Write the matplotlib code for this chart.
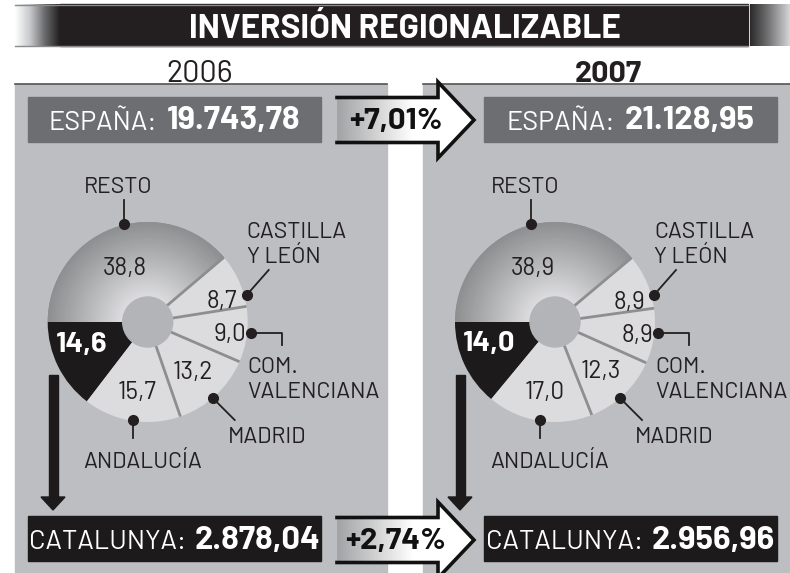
import numpy as np
import matplotlib
matplotlib.use('Agg')
import matplotlib.pyplot as plt
from matplotlib.patches import Rectangle, Polygon, Wedge, Circle
from matplotlib import font_manager as fm
from matplotlib.colors import LinearSegmentedColormap

# ---------------- data ----------------
title = 'INVERSIÓN REGIONALIZABLE'
years = ['2006', '2007']
regions = ['CATALUNYA', 'ANDALUCÍA', 'MADRID', 'COM.\nVALENCIANA', 'CASTILLA\nY LEÓN', 'RESTO']
share_2006 = [14.6, 15.7, 13.2, 9.0, 8.7, 38.8]
share_2007 = [14.0, 17.0, 12.3, 8.9, 8.9, 38.9]
spain_total = [19743.78, 21128.95]
catalunya_total = [2878.04, 2956.96]
growth_spain = 7.01
growth_catalunya = 2.74

# ---------------- fonts ----------------
names = {f.name for f in fm.fontManager.ttflist}
FONT = 'Barlow' if 'Barlow' in names else ('Barlow Semi Condensed' if 'Barlow Semi Condensed' in names else 'DejaVu Sans')
plt.rcParams['font.family'] = [FONT, 'DejaVu Sans']


def es_num(v, d=2):
    s = f"{v:,.{d}f}"
    return s.replace(',', 'X').replace('.', ',').replace('X', '.')


W, H = 790, 573
fig = plt.figure(figsize=(W / 100, H / 100), dpi=100)
fig.patch.set_facecolor('white')
ax = fig.add_axes([0, 0, 1, 1])
ax.axis('off')


def Y(y):
    return H - y


PANEL = '#bdbec1'
LIGHT = '#dcdcde'
DARK = '#1c1a1b'
INK = '#231f20'

# ---------------- title bar ----------------
ax.add_patch(Rectangle((60, Y(46)), 748 - 60, 42, color='#231f20', zorder=2))
ax.plot([15, 748], [Y(4.5)] * 2, color='#8a8a8a', lw=1, zorder=3)
ax.plot([15, 748], [Y(45.5)] * 2, color='#8a8a8a', lw=1, zorder=3)
g = np.linspace(0, 1, 256)[None, :]
cm_l = LinearSegmentedColormap.from_list('l', ['#ffffff', '#c8c9cc', '#6a6a6c', '#231f20'])
ax.imshow(g, extent=[15, 60, Y(46), Y(4)], aspect='auto', cmap=cm_l, zorder=2)
cm_r = LinearSegmentedColormap.from_list('r', ['#2a2a2a', '#7a7a7c', '#d6d6d8'])
ax.imshow(g, extent=[750, 790, Y(46), Y(4)], aspect='auto', cmap=cm_r, zorder=2)
ax.text(405, Y(37.5), title, color='white', fontsize=24, fontweight='bold',
        ha='center', va='baseline', zorder=4)

# ---------------- panels ----------------
panel_x = [(15, 387), (423, 790)]
for (x0, x1) in panel_x:
    ax.add_patch(Rectangle((x0, 0), x1 - x0, Y(84), color=PANEL, zorder=1))
    ax.plot([x0, x1], [Y(84)] * 2, color='#555555', lw=1.2, zorder=2)

ax.text(200, Y(82), years[0], fontsize=22, ha='center', va='baseline', color=INK)
ax.text(608, Y(82), years[1], fontsize=22, fontweight='bold', ha='center', va='baseline', color=INK)

renderer = fig.canvas.get_renderer()


def two_part(xc, yb, lab, num, color='white', s1=19.5, s2=23.5):
    t1 = ax.text(0, Y(yb), lab, fontsize=s1, color=color, va='baseline', ha='left', zorder=6)
    t2 = ax.text(0, Y(yb), num, fontsize=s2, color=color, va='baseline', ha='left',
                 fontweight='bold', zorder=6)
    gap = 9
    w1 = t1.get_window_extent(renderer).width
    w2 = t2.get_window_extent(renderer).width
    x0 = xc - (w1 + gap + w2) / 2
    t1.set_x(x0)
    t2.set_x(x0 + w1 + gap)


box_x = [28, 484]
box_w = 293
for i in range(2):
    ax.add_patch(Rectangle((box_x[i], Y(142)), box_w, 45, color='#6d6e71', zorder=5))
    two_part(box_x[i] + box_w / 2, 129.5, 'ESPAÑA:', es_num(spain_total[i]))
    ax.add_patch(Rectangle((box_x[i], Y(561)), box_w, 45, color=DARK, zorder=5))
    two_part(box_x[i] + box_w / 2, 549, 'CATALUNYA:', es_num(catalunya_total[i]))

# ---------------- growth arrows ----------------
cm_a = LinearSegmentedColormap.from_list('a', ['#a2a3a5', '#ffffff'])


def growth_arrow(cy, val):
    x0, xh, xt = 337, 438, 474
    hs, hh = 22.5, 38
    pts = [(x0, cy - hs), (xh, cy - hs), (xh, cy - hh), (xt, cy), (xh, cy + hh),
           (xh, cy + hs), (x0, cy + hs)]
    pts = [(px, Y(py)) for px, py in pts]
    poly = Polygon(pts, closed=True, fc='none', ec='none', zorder=6)
    ax.add_patch(poly)
    grad = np.clip(np.linspace(0, 1.8, 256), 0, 1)[None, :]
    im = ax.imshow(grad, extent=[x0, xt, Y(cy + hh), Y(cy - hh)], aspect='auto',
                   cmap=cm_a, zorder=6)
    im.set_clip_path(poly)
    ax.plot([p[0] for p in pts], [p[1] for p in pts], color='#111', lw=2.6, zorder=7,
            solid_joinstyle='miter')
    ax.text(396, Y(cy + 8.5), '+' + es_num(val) + '%', color='#111', fontsize=22.5,
            fontweight='bold', ha='center', va='baseline', zorder=8)


growth_arrow(120, growth_spain)
growth_arrow(540, growth_catalunya)

# ---------------- down arrows ----------------
for cx in [53, 460]:
    ax.add_patch(Rectangle((cx - 4.5, Y(498)), 9, 498 - 375, color=DARK, zorder=5))
    ax.add_patch(Polygon([(cx - 12, Y(497)), (cx + 12, Y(497)), (cx, Y(510))],
                         color=DARK, zorder=5))

# ---------------- donuts ----------------
pie_cx = [147.7, 555]
pie_cy = 322
R, r_hole = 100, 25
label_r = [69, 69, 66, 83, 77, 60]
label_da = [-9, 0, 0, 0, -8, 2]
# region label layout: (dx, first baseline dy, ha) from centre, image pixels, y down
lab_pos = [None, (-5, 146, 'center'), (119, 121, 'center'), (100, 51, 'left'),
           (99, -84, 'left'), (-30, -129, 'center')]
LINE_H = 25
leaders = [None,
           [(-15, 98), (-15, 116)],
           [(65, 76), (87, 98)],
           [(103, 11), (134, 11), (134, 23)],
           [(99, -27), (121, -52)],
           [(-24, -98), (-24, -122)]]
resto_cm = LinearSegmentedColormap.from_list('resto', ['#8e8f91', '#b4b5b7', '#dcdcde'])

for i, vals in enumerate([share_2006, share_2007]):
    cx = pie_cx[i]
    c = (cx, Y(pie_cy))
    cols = [DARK, LIGHT, LIGHT, LIGHT, LIGHT, '#8e8f91']
    wedges, _ = ax.pie(vals, startangle=180, counterclock=True, radius=R, center=c,
                       colors=cols, wedgeprops=dict(linewidth=0))
    for wdg in wedges:
        wdg.set_zorder(3)
    wr = wedges[5]
    N = 40
    for k in range(N):
        rr = R - k * (R - r_hole) / N
        ax.add_patch(Wedge(c, rr, wr.theta1, wr.theta2, color=resto_cm(k / (N - 1)),
                           lw=0, zorder=3.1))
    for j in [1, 2, 3, 4]:
        th = np.deg2rad(wedges[j].theta2)
        ax.plot([c[0] + r_hole * np.cos(th), c[0] + R * np.cos(th)],
                [c[1] + r_hole * np.sin(th), c[1] + R * np.sin(th)],
                color='#8d8e90', lw=2, zorder=3.5, solid_capstyle='butt')
    ax.add_patch(Circle(c, r_hole, color='#b3b4b7', zorder=3.6))
    for j, wdg in enumerate(wedges):
        mid = np.deg2rad((wdg.theta1 + wdg.theta2) / 2 + label_da[j])
        tx = c[0] + label_r[j] * np.cos(mid)
        ty = c[1] + label_r[j] * np.sin(mid)
        if j == 0:
            ax.text(tx, ty - 10, es_num(vals[j], 1), color='white', fontsize=21,
                    fontweight='bold', ha='center', va='baseline', zorder=6)
        else:
            ax.text(tx, ty - 8.5, es_num(vals[j], 1), color=INK, fontsize=17.5,
                    ha='center', va='baseline', zorder=6)
    for j in range(1, 6):
        dx, dy, ha = lab_pos[j]
        for k, line in enumerate(regions[j].split('\n')):
            ax.text(cx + dx, Y(pie_cy + dy + k * LINE_H), line, fontsize=16.5, color=INK,
                    ha=ha, va='baseline', zorder=6)
        pts = leaders[j]
        ax.plot([cx + p[0] for p in pts], [Y(pie_cy + p[1]) for p in pts],
                color=INK, lw=1.3, zorder=6)
        ax.plot(cx + pts[0][0], Y(pie_cy + pts[0][1]), 'o', color=INK, ms=7, zorder=6)

ax.set_xlim(0, W)
ax.set_ylim(0, H)
ax.set_aspect('auto')
ax.axis('off')
fig.savefig('out.png', dpi=100, facecolor='white')
